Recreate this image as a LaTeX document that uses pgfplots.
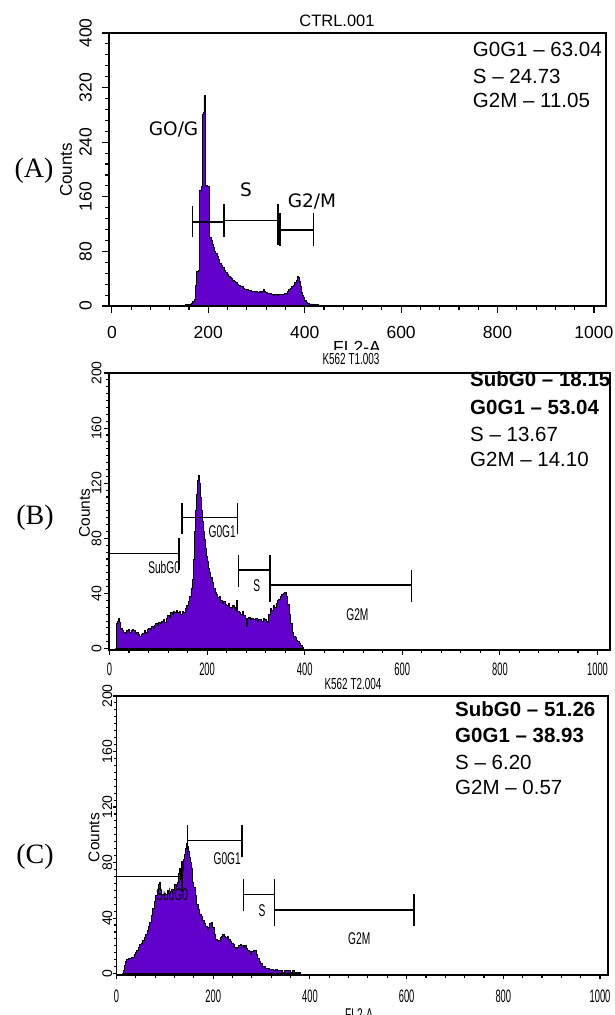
\documentclass[border=0pt]{standalone}
\usepackage{fontspec}
\usepackage{graphicx}
\usepackage{pgfplots}
\pgfplotsset{compat=1.18}
\setmainfont{Liberation Sans}
\newfontfamily\dvs{DejaVu Sans}
\newfontfamily\tms{Liberation Serif}
\definecolor{purp}{RGB}{98,0,204}
\newcommand\cnd[2][0.52]{\scalebox{#1}[1]{#2}}
\newcommand\fs[1]{\fontsize{#1}{#1}\selectfont}

\pgfplotsset{
  flow/.style={
    scale only axis, anchor=south west, clip=false,
    tick align=outside, tick pos=left,
    axis line style={line width=1.2pt},
    every tick/.style={black, line width=1.1pt},
    major tick length=7pt, minor tick length=4pt,
    xtick={0,200,400,600,800,1000},
    minor x tick num=4,
  },
  hist/.style={const plot, fill=purp, draw=black, line width=0.8pt},
  gate/.style={black, line width=1.6pt, forget plot, mark=none},
}

\begin{document}
\begin{tikzpicture}[x=1pt,y=1pt]
\useasboundingbox (0pt,0pt) rectangle (614pt,1015pt);

% ---------------- Panel A ----------------
\begin{axis}[flow, at={(109pt,709pt)}, width=497pt, height=273pt,
  xmin=-6, xmax=1025, ymin=0, ymax=400,
  ytick={0,80,160,240,320,400}, minor y tick num=4,
  xticklabels={0,200,400,600,800,1000},
  yticklabels={0,80,160,240,320,400},
  xticklabel shift=13pt, yticklabel shift=10pt,
  xticklabel style={font=\fs{17.5}, anchor=north, inner sep=0pt},
  yticklabel style={font=\fs{17.5}, rotate=90, anchor=south, inner sep=0pt},
]
\addplot[hist] coordinates {
(146,0)(148,1)(152,2)(156,2)(160,3)(164,4)(168,6)(172,10)(174,30)(176,50)(180,52)
(182,170)(186,175)(188,280)(190,284)(191,308)(193,290)(195,176)(198,175)(202,172)
(203,101)(206,96)(208,90)(210,86)(212,80)(215,77)(218,72)(221,68)(224,63)(227,60)
(230,56)(233,52)(236,49)(239,47)(242,44)(245,42)(248,40)(251,38)(254,36)(257,34)
(260,32)(263,30)(266,29)(269,28)(272,26)(275,25)(278,25)(281,24)(284,23)(287,23)
(290,22)(293,21)(296,21)(299,21)(302,20)(305,21)(308,20)(311,22)(314,25)(316,21)
(319,20)(322,19)(325,18)(328,18)(331,17)(334,16)(337,17)(340,17)(343,16)(346,17)
(349,17)(352,17)(355,17)(358,18)(361,19)(364,21)(367,24)(370,26)(373,28)(376,30)
(379,34)(382,38)(385,44)(387,42)(389,36)(391,28)(393,20)(395,15)(397,12)(400,8)
(403,5)(406,4)(410,3)(414,3)(418,2)(424,2)(428,1)(432,0)} \closedcycle;
% gates
\addplot[gate] coordinates {(167,101)(167,147)};
\addplot[gate] coordinates {(167,123.5)(233,123.5)};
\addplot[gate] coordinates {(233,101)(233,150)};
\addplot[gate] coordinates {(233,125)(344,125)};
\addplot[gate] coordinates {(344,89)(344,150)};
\addplot[gate] coordinates {(349,88)(349,136)};
\addplot[gate] coordinates {(349,111.4)(418,111.4)};
\addplot[gate] coordinates {(418,88)(418,136)};
\node[font=\dvs\fs{18.5}] at (axis cs:128,258) {GO/G};
\node[font=\dvs\fs{18.5}] at (axis cs:278,170) {S};
\node[font=\dvs\fs{18.5}] at (axis cs:415,153) {G2/M};
\draw[line width=2.6pt] (rel axis cs:0,0) -- (rel axis cs:1,0);
\end{axis}
\node[font=\fs{16.5}, anchor=base] at (337pt,988pt) {CTRL.001};
\node[font=\fs{17.5}, anchor=north, inner sep=0pt] at (357pt,673.5pt) {FL2-A};
\node[font=\fs{17}, rotate=90] at (66pt,845pt) {Counts};
\node[font=\tms\fs{28}] at (34pt,844pt) {(A)};
\begin{scope}[every node/.style={anchor=base west, inner sep=0pt, font=\fs{20.5}}]
\node at (472.7pt,958pt) {G0G1 – 63.04};
\node at (472.7pt,931.7pt) {S – 24.73};
\node at (472.7pt,907pt) {G2M – 11.05};
\end{scope}
\fill[white] (0pt,644pt) rectangle (614pt,665pt);

% ---------------- Panel B ----------------
\begin{axis}[flow, at={(109pt,365pt)}, width=501pt, height=277pt,
  xmin=-1, xmax=1025.6, ymin=-1, ymax=200,
  major tick length=5pt, minor tick length=3pt,
  ytick={0,40,80,120,160,200}, minor y tick num=7,
  xticklabels={\cnd{0},\cnd{200},\cnd{400},\cnd{600},\cnd{800},\cnd{1000}},
  yticklabels={0,40,80,120,160,200},
  xticklabel shift=8pt, yticklabel shift=2.3pt,
  xticklabel style={font=\fs{18}, anchor=north, inner sep=0pt},
  yticklabel style={font=\fs{14}, rotate=90, anchor=south, inner sep=0pt},
]
\addplot[hist] coordinates {
(12,0)(14,18)(16,20)(18,22)(20,19)(23,15)(26,13)(29,12)(32,11)(35,13)(38,14)(41,12)
(44,13)(47,14)(50,13)(53,11)(56,12)(59,10)(62,9)(65,10)(68,11)(71,13)(74,12)(77,14)
(80,15)(83,14)(86,16)(89,15)(92,17)(95,18)(98,17)(101,19)(104,18)(107,20)(110,21)
(113,19)(116,22)(119,24)(122,23)(125,26)(128,25)(131,27)(134,26)(137,28)(140,26)
(143,27)(146,25)(149,27)(152,26)(155,29)(158,31)(161,34)(164,38)(167,44)(170,50)
(172,65)(174,85)(176,100)(178,112)(180,122)(182,126)(184,120)(186,110)(188,100)
(190,92)(192,85)(194,79)(196,73)(198,67)(200,63)(202,58)(204,55)(207,52)(210,48)
(213,44)(216,41)(219,39)(222,37)(225,38)(228,35)(231,33)(234,34)(237,32)(240,31)
(243,33)(246,30)(249,29)(252,31)(255,30)(258,28)(261,35)(263,27)(266,26)(269,25)
(272,27)(275,24)(278,22)(280,16)(282,22)(285,23)(288,21)(291,22)(294,21)(297,21)
(300,22)(303,20)(306,21)(309,21)(312,20)(315,22)(318,21)(321,20)(324,19)(326,25)
(329,29)(332,28)(335,31)(338,30)(341,33)(344,35)(347,36)(350,38)(353,39)(356,40)
(359,41)(362,38)(365,32)(368,25)(371,18)(374,12)(377,9)(380,8)(383,6)(386,5)
(389,4)(392,2)(395,1)(397,0)} \closedcycle;
\addplot[gate] coordinates {(0,57)(0,80)};
\addplot[gate] coordinates {(0,69)(142,69)};
\addplot[gate] coordinates {(142,57)(142,80)};
\addplot[gate] coordinates {(148,83)(148,106)};
\addplot[gate] coordinates {(148,95)(262,95)};
\addplot[gate] coordinates {(262,83)(262,106)};
\addplot[gate] coordinates {(264,45)(264,68)};
\addplot[gate] coordinates {(264,57)(329,57)};
\addplot[gate] coordinates {(329,34)(329,68)};
\addplot[gate] coordinates {(329,46)(619,46)};
\addplot[gate] coordinates {(619,34)(619,57)};
\node[font=\fs{17}] at (axis cs:112,59) {\cnd[0.6]{SubG0}};
\node[font=\fs{17}] at (axis cs:231,85) {\cnd[0.6]{G0G1}};
\node[font=\fs{17}] at (axis cs:302,46) {\cnd[0.6]{S}};
\node[font=\fs{17}] at (axis cs:508,25) {\cnd[0.6]{G2M}};
\draw[line width=2.6pt] (rel axis cs:0,0) -- (rel axis cs:1,0);
\end{axis}
\node[font=\fs{16}, anchor=base] at (351pt,650pt) {\cnd[0.62]{K562 T1.003}};
\node[font=\fs{15.5}, rotate=90] at (84.5pt,502pt) {Counts};
\node[font=\tms\fs{28}] at (35pt,497pt) {(B)};
\begin{scope}[every node/.style={anchor=base west, inner sep=0pt, font=\fs{20.5}}]
\node[font=\bfseries\fs{20.5}] at (470pt,628.3pt) {SubG0 – 18.15};
\node[font=\bfseries\fs{20.5}] at (470pt,600pt) {G0G1 – 53.04};
\node at (470pt,573.3pt) {S – 13.67};
\node at (470pt,548.3pt) {G2M – 14.10};
\end{scope}

% ---------------- Panel C ----------------
\begin{axis}[flow, at={(116.5pt,40pt)}, width=491.5pt, height=279pt,
  xmin=0, xmax=1016.5, ymin=-1, ymax=200,
  major tick length=4pt, minor tick length=2.5pt,
  ytick={0,40,80,120,160,200}, minor y tick num=7,
  xticklabels={\cnd{0},\cnd{200},\cnd{400},\cnd{600},\cnd{800},\cnd{1000}},
  yticklabels={0,40,80,120,160,200},
  xticklabel shift=11pt, yticklabel shift=0pt,
  xticklabel style={font=\fs{18}, anchor=north, inner sep=0pt},
  yticklabel style={font=\fs{14}, rotate=90, anchor=south, inner sep=0pt},
]
\addplot[hist] coordinates {
(12,0)(14,2)(16,6)(18,9)(21,10)(24,11)(27,11)(30,12)(33,12)(36,14)(39,15)(42,17)
(45,19)(48,21)(51,22)(54,24)(57,26)(60,28)(63,31)(66,34)(69,37)(72,42)(75,47)
(78,52)(81,56)(84,59)(87,64)(89,66)(91,60)(93,57)(96,56)(99,58)(102,57)(105,60)
(108,58)(111,59)(114,61)(117,60)(120,64)(123,63)(126,66)(128,72)(130,76)(132,68)
(134,67)(136,74)(138,82)(140,86)(142,90)(144,94)(146,92)(148,88)(150,84)(152,80)
(154,76)(156,70)(158,66)(160,62)(163,56)(166,50)(169,46)(172,43)(175,41)(178,38)
(181,36)(184,34)(187,32)(190,33)(193,36)(196,37)(199,33)(202,28)(205,25)(208,23)
(211,24)(214,26)(217,27)(220,28)(223,27)(226,26)(229,27)(232,25)(235,23)(238,22)
(241,21)(244,19)(247,18)(250,19)(253,20)(256,21)(259,20)(262,19)(265,20)(268,18)
(271,17)(274,16)(277,14)(280,16)(283,17)(286,17)(289,14)(292,11)(295,9)(298,7)
(301,5)(304,5)(308,4)(312,4)(316,3)(320,3)(324,2)(328,3)(332,2)(336,2)(340,2)
(344,1)(348,2)(352,2)(356,2)(360,1)(364,2)(368,1)(372,1)(376,1)(380,0)} \closedcycle;
\addplot[gate] coordinates {(0,59)(0,81)};
\addplot[gate] coordinates {(0,70)(136,70)};
\addplot[gate] coordinates {(136,59)(136,81)};
\addplot[gate] coordinates {(147,84)(147,107)};
\addplot[gate] coordinates {(147,96)(260,96)};
\addplot[gate] coordinates {(260,84)(260,107)};
\addplot[gate] coordinates {(263,45)(263,68)};
\addplot[gate] coordinates {(263,57)(327,57)};
\addplot[gate] coordinates {(327,34)(327,68)};
\addplot[gate] coordinates {(327,46)(615,46)};
\addplot[gate] coordinates {(615,34)(615,57)};
\node[font=\fs{17}] at (axis cs:115,57) {\cnd[0.6]{SubG0}};
\node[font=\fs{17}] at (axis cs:229,83) {\cnd[0.6]{G0G1}};
\node[font=\fs{17}] at (axis cs:301,45.5) {\cnd[0.6]{S}};
\node[font=\fs{17}] at (axis cs:502,25) {\cnd[0.6]{G2M}};
\draw[line width=2.6pt] (rel axis cs:0,0) -- (rel axis cs:1,0);
\end{axis}
\node[font=\fs{16}, anchor=base] at (353pt,325pt) {\cnd[0.62]{K562 T2.004}};
\node[font=\fs{15.5}, rotate=90] at (94pt,177.5pt) {Counts};
\node[font=\tms\fs{28}] at (35pt,158pt) {(C)};
\node[font=\fs{17}, anchor=north, inner sep=0pt] at (359pt,7pt) {\cnd[0.6]{FL2-A}};
\begin{scope}[every node/.style={anchor=base west, inner sep=0pt, font=\fs{20.5}}]
\node[font=\bfseries\fs{20.5}] at (455pt,298pt) {SubG0 – 51.26};
\node[font=\bfseries\fs{20.5}] at (455pt,272pt) {G0G1 – 38.93};
\node at (455pt,245pt) {S – 6.20};
\node at (455pt,220pt) {G2M – 0.57};
\end{scope}
\end{tikzpicture}
\end{document}
